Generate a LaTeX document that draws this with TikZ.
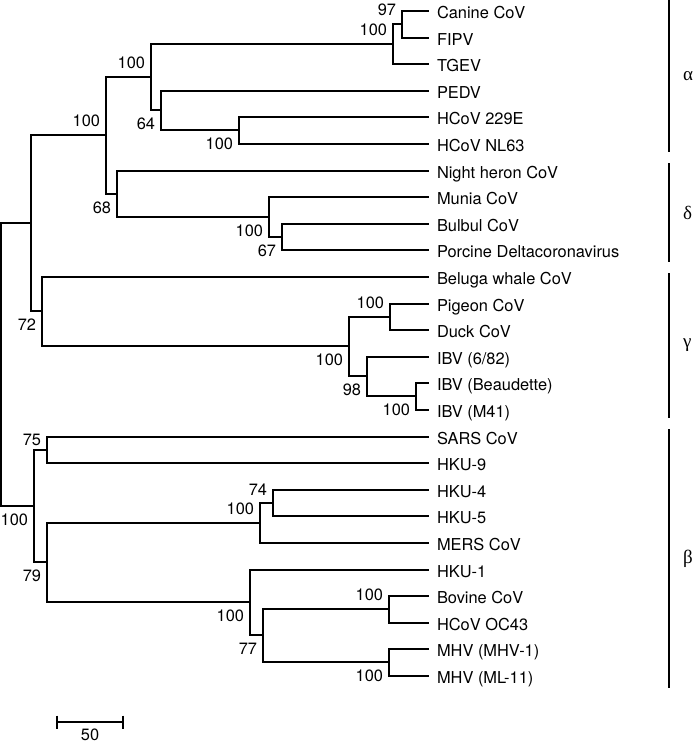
\documentclass[tikz,border=0pt]{standalone}
\usepackage{fontspec}
\setmainfont{TeX Gyre Heros}
\newfontfamily\greekfont{Liberation Serif}
\usepackage{tikz}
\tikzset{
  leaf/.style={
    anchor=west,
    inner xsep=7pt,
    inner ysep=0pt,
    text height=15.6pt,
    text depth=0pt,
    font=\fontsize{16.4}{19}\selectfont
  },
  boot/.style={
    inner xsep=5pt,
    inner ysep=7pt,
    font=\fontsize{16.4}{19}\selectfont
  },
  elbow/.style={
    to path={|- (\tikztotarget)}
  },
  clade/.style={
    line width=2pt
  },
  greek/.style={
    inner sep=0pt,
    font=\greekfont\fontsize{19}{22}\selectfont
  }
}

\begin{document}
\begin{tikzpicture}[x=1pt,y=-1pt,line width=2pt]
    \useasboundingbox (0,0) rectangle (694,744);

    \path{
      node[leaf] (canine)    at (429,11)  {Canine CoV}
      node[leaf] (fipv)      at (429,38)  {FIPV}
      node[leaf] (tgev)      at (429,64)  {TGEV}
      node[leaf] (pedv)      at (429,91)  {PEDV}
      node[leaf] (hcov229e)  at (429,117) {HCoV 229E}
      node[leaf] (nl63)      at (429,144) {HCoV NL63}
      node[leaf] (heron)     at (429,171) {Night heron CoV}
      node[leaf] (munia)     at (429,197) {Munia CoV}
      node[leaf] (bulbul)    at (429,224) {Bulbul CoV}
      node[leaf] (porcine)   at (429,250) {Porcine Deltacoronavirus}
      node[leaf] (beluga)    at (429,277) {Beluga whale CoV}
      node[leaf] (pigeon)    at (429,304) {Pigeon CoV}
      node[leaf] (duck)      at (429,330) {Duck CoV}
      node[leaf] (ibv682)    at (429,357) {IBV (6/82)}
      node[leaf] (beaudette) at (429,383) {IBV (Beaudette)}
      node[leaf] (m41)       at (429,410) {IBV (M41)}
      node[leaf] (sars)      at (429,437) {SARS CoV}
      node[leaf] (hku9)      at (429,463) {HKU-9}
      node[leaf] (hku4)      at (429,490) {HKU-4}
      node[leaf] (hku5)      at (429,516) {HKU-5}
      node[leaf] (mers)      at (429,543) {MERS CoV}
      node[leaf] (hku1)      at (429,570) {HKU-1}
      node[leaf] (bovine)    at (429,596) {Bovine CoV}
      node[leaf] (oc43)      at (429,623) {HCoV OC43}
      node[leaf] (mhv1)      at (429,649) {MHV (MHV-1)}
      node[leaf] (ml11)      at (429,676) {MHV (ML-11)}

      coordinate (n_cf)    at (402,24)
      coordinate (n_cft)   at (393,44)
      coordinate (n_hc)    at (239,130)
      coordinate (n_phc)   at (161,110)
      coordinate (n_alpha) at (151,77)
      coordinate (n_bp)    at (282,237)
      coordinate (n_mbp)   at (269,217)
      coordinate (n_delta) at (117,194)
      coordinate (n_ad)    at (106,135)
      coordinate (n_pd)    at (390,317)
      coordinate (n_bm)    at (416,396)
      coordinate (n_ibv)   at (367,376)
      coordinate (n_bird)  at (349,346)
      coordinate (n_gamma) at (42,311)
      coordinate (n_adg)   at (31,223)
      coordinate (n_sh)    at (47,450)
      coordinate (n_45)    at (273,503)
      coordinate (n_mers)  at (260,523)
      coordinate (n_bo)    at (389,609)
      coordinate (n_mhv)   at (389,662)
      coordinate (n_embe)  at (263,635)
      coordinate (n_hku1)  at (250,602)
      coordinate (n_79)    at (47,562)
      coordinate (n_beta)  at (34,506)
      coordinate (n_root)  at (1,364)
    };

    \path[draw,elbow]{
      (n_cf) edge (canine)
      (n_cf) edge (fipv)
      (n_cft) edge (n_cf)
      (n_cft) edge (tgev)
      (n_hc) edge (hcov229e)
      (n_hc) edge (nl63)
      (n_phc) edge (pedv)
      (n_phc) edge (n_hc)
      (n_alpha) edge (n_cft)
      (n_alpha) edge (n_phc)
      (n_bp) edge (bulbul)
      (n_bp) edge (porcine)
      (n_mbp) edge (munia)
      (n_mbp) edge (n_bp)
      (n_delta) edge (heron)
      (n_delta) edge (n_mbp)
      (n_ad) edge (n_alpha)
      (n_ad) edge (n_delta)
      (n_pd) edge (pigeon)
      (n_pd) edge (duck)
      (n_bm) edge (beaudette)
      (n_bm) edge (m41)
      (n_ibv) edge (ibv682)
      (n_ibv) edge (n_bm)
      (n_bird) edge (n_pd)
      (n_bird) edge (n_ibv)
      (n_gamma) edge (beluga)
      (n_gamma) edge (n_bird)
      (n_adg) edge (n_ad)
      (n_adg) edge (n_gamma)
      (n_sh) edge (sars)
      (n_sh) edge (hku9)
      (n_45) edge (hku4)
      (n_45) edge (hku5)
      (n_mers) edge (n_45)
      (n_mers) edge (mers)
      (n_bo) edge (bovine)
      (n_bo) edge (oc43)
      (n_mhv) edge (mhv1)
      (n_mhv) edge (ml11)
      (n_embe) edge (n_bo)
      (n_embe) edge (n_mhv)
      (n_hku1) edge (hku1)
      (n_hku1) edge (n_embe)
      (n_79) edge (n_mers)
      (n_79) edge (n_hku1)
      (n_beta) edge (n_sh)
      (n_beta) edge (n_79)
      (n_root) edge (n_adg)
      (n_root) edge (n_beta)
    };

    \path{
      node[boot,above left] (b_cf)    at (n_cf)    {97}
      node[boot,above left] (b_cft)   at (n_cft)   {100}
      node[boot,above left] (b_alpha) at (n_alpha) {100}
      node[boot,above left] (b_ad)    at (n_ad)    {100}
      node[boot,below left] (b_phc)   at (n_phc)   {64}
      node[boot,below left] (b_hc)    at (n_hc)    {100}
      node[boot,below left] (b_delta) at (n_delta) {68}
      node[boot,below left] (b_mbp)   at (n_mbp)   {100}
      node[boot,below left] (b_bp)    at (n_bp)    {67}
      node[boot,below left] (b_gamma) at (n_gamma) {72}
      node[boot,below left] (b_bird)  at (n_bird)  {100}
      node[boot,above left] (b_pd)    at (n_pd)    {100}
      node[boot,below left] (b_ibv)   at (n_ibv)   {98}
      node[boot,below left] (b_bm)    at (n_bm)    {100}
      node[boot,below left] (b_beta)  at (n_beta)  {100}
      node[boot,above left,yshift=-4pt] (b_sh) at (n_sh) {75}
      node[boot,below left] (b_79)    at (n_79)    {79}
      node[boot,above left] (b_45)    at (n_45)    {74}
      node[boot,above left] (b_mers)  at (n_mers)  {100}
      node[boot,below left] (b_hku1)  at (n_hku1)  {100}
      node[boot,below left] (b_embe)  at (n_embe)  {77}
      node[boot,above left] (b_bo)    at (n_bo)    {100}
      node[boot,below left] (b_mhv)   at (n_mhv)   {100}
    };

    \draw[clade] (669,0) -- node[greek,right=13pt] (alpha) {α} (669,151.5);
    \draw[clade] (669,163.3) -- node[greek,right=13pt] (delta) {δ} (669,262);
    \draw[clade] (669,273) -- node[greek,right=13pt] (gamma) {γ} (669,418);
    \draw[clade] (669,429) -- node[greek,right=13pt] (beta) {β} (669,688);

    \coordinate (sb_w) at (57,722);
    \coordinate (sb_e) at (123,722);
    \draw (sb_w) -- node[boot,below,inner ysep=6pt] (sb_lbl) {50} (sb_e);
    \draw ([yshift=6.5pt]sb_w) -- ([yshift=-6.5pt]sb_w);
    \draw ([yshift=6.5pt]sb_e) -- ([yshift=-6.5pt]sb_e);
\end{tikzpicture}
\end{document}
